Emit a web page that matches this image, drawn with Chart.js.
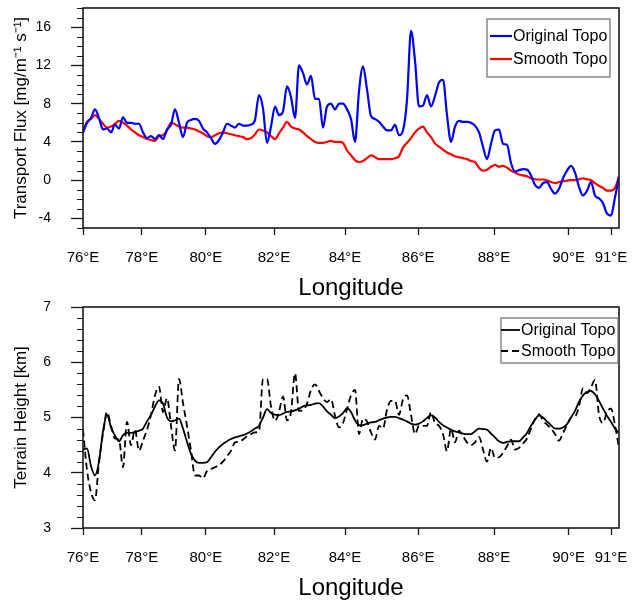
<!DOCTYPE html>
<html>
<head>
<meta charset="utf-8">
<script src="https://cdn.jsdelivr.net/npm/chart.js@4/dist/chart.umd.min.js"></script>
<style>
  html, body { margin: 0; padding: 0; background: #fff; }
  #wrap { position: relative; width: 634px; height: 603px; overflow: hidden; }
  #wrap canvas { position: absolute; left: 0; }
</style>
</head>
<body>
<div id="wrap">
  <canvas id="top" width="634" height="302" style="top:0"></canvas>
  <canvas id="bot" width="634" height="303" style="top:300px"></canvas>
</div>
<script>
// ---------- DATA (x = grid point index along the cross-section) ----------
const xTickIndex  = [0, 14.7, 30.7, 47.75, 65.5, 83.8, 102.75, 121.4, 132];
const xTickLabels = ['76°E','78°E','80°E','82°E','84°E','86°E','88°E','90°E','91°E'];

const fluxTicks    = [-4, 0, 4, 8, 12, 16];
const terrainTicks = [3, 4, 5, 6, 7];

const seriesNames = ['Original Topo', 'Smooth Topo'];

const fluxOriginal = [
 5.0,6.0,6.5,7.4,6.5,5.3,5.4,5.0,5.8,5.4,
 6.6,6.0,6.0,5.9,5.9,5.0,4.4,4.6,4.3,4.7,
 4.3,5.3,5.8,7.4,6.0,4.5,6.0,6.3,6.4,6.2,
 5.4,5.0,4.4,3.8,4.2,5.0,5.9,5.7,5.5,5.9,
 5.7,5.7,5.8,6.3,8.9,7.5,3.9,5.6,7.7,6.8,
 7.2,9.8,8.7,6.5,12.0,11.2,10.0,10.9,8.5,8.5,
 5.5,7.7,8.0,7.4,8.0,8.0,7.4,6.4,4.0,9.3,
 11.9,9.5,6.7,6.4,6.1,5.6,5.2,5.2,5.8,4.7,
 5.2,8.4,15.6,12.5,7.7,7.8,8.9,7.7,8.8,10.2,
 10.5,6.8,4.0,5.6,6.2,6.1,6.1,6.0,5.7,5.0,
 3.5,2.2,3.8,5.2,5.3,3.8,3.7,1.8,0.9,1.05,
 1.15,1.1,0.5,-0.5,-0.8,-0.3,-0.2,-0.9,-1.4,-0.9,
 0.2,1.0,1.5,0.8,-0.7,-1.6,-1.1,-0.2,-1.6,-1.9,
 -2.4,-3.5,-3.7,-1.8,0.3
];
const fluxSmooth = [
 5.0,6.1,6.4,6.8,6.4,5.9,5.5,5.6,5.9,6.2,
 6.0,5.7,5.3,5.0,4.7,4.5,4.3,4.2,4.1,4.6,
 4.7,5.2,6.0,5.85,5.6,5.5,5.5,5.4,5.3,5.1,
 4.9,4.6,4.5,4.7,4.9,5.0,4.9,4.8,4.7,4.6,
 4.5,4.3,4.4,4.8,5.3,5.2,5.0,4.6,4.3,4.9,
 5.5,6.1,5.6,5.4,5.3,5.0,4.6,4.3,4.0,3.9,
 3.9,4.0,4.1,4.0,4.0,3.9,3.1,2.6,2.1,1.9,
 2.0,2.3,2.6,2.4,2.2,2.2,2.2,2.2,2.3,2.5,
 3.4,3.9,4.4,5.0,5.4,5.6,5.0,4.5,3.85,3.5,
 3.2,2.9,2.7,2.5,2.4,2.3,2.2,2.0,1.9,1.3,
 1.0,1.1,1.4,1.6,1.4,1.5,1.3,1.0,0.8,0.6,
 0.5,0.4,0.2,0.1,0.07,0.07,0.0,-0.2,-0.3,-0.2,
 -0.1,-0.05,0.0,0.0,0.1,0.2,0.1,0.0,-0.3,-0.6,
 -0.8,-1.1,-1.1,-0.8,0.4
];
const terrainOriginal = [
 4.42,4.44,4.12,3.95,4.2,4.75,5.05,4.82,4.67,4.57,
 4.68,4.72,4.72,4.74,4.76,4.8,4.93,5.05,5.2,5.31,
 5.25,5.0,4.93,4.95,4.98,4.8,4.56,4.34,4.22,4.18,
 4.18,4.19,4.28,4.38,4.46,4.52,4.57,4.61,4.64,4.66,
 4.68,4.71,4.75,4.8,4.85,5.0,5.15,5.08,5.05,5.04,
 5.07,5.1,5.11,5.13,5.16,5.2,5.22,5.23,5.25,5.26,
 5.2,5.11,5.05,4.99,5.02,5.08,5.17,5.1,4.95,4.86,
 4.86,4.89,4.91,4.92,4.95,4.98,5.0,5.01,5.01,4.99,
 4.96,4.93,4.89,4.87,4.89,4.93,4.99,5.04,5.0,4.92,
 4.86,4.82,4.78,4.75,4.73,4.71,4.7,4.7,4.75,4.8,
 4.79,4.78,4.71,4.64,4.57,4.54,4.56,4.57,4.57,4.57,
 4.64,4.72,4.85,4.96,5.04,5.0,4.93,4.86,4.8,4.8,
 4.82,4.88,5.0,5.12,5.28,5.4,5.46,5.48,5.42,5.3,
 5.16,5.03,4.92,4.8,4.72
];
const terrainSmooth = [
 4.78,4.05,3.65,3.5,4.2,4.7,5.1,4.85,4.62,4.6,
 4.1,4.92,4.5,4.78,4.4,4.58,4.78,5.05,5.4,5.56,
 5.1,5.35,4.85,4.4,5.7,5.26,4.85,4.4,3.95,3.95,
 3.9,4.03,4.07,4.1,4.14,4.2,4.3,4.4,4.55,4.56,
 4.6,4.66,4.7,4.73,4.75,5.7,5.7,5.2,4.94,5.1,
 5.38,4.95,5.1,5.8,5.12,5.13,5.25,5.5,5.6,5.48,
 5.35,5.28,5.33,5.03,4.82,4.9,5.15,5.4,5.5,4.7,
 4.98,4.93,4.73,4.6,4.85,4.8,5.14,5.3,5.3,5.05,
 5.33,5.4,5.05,4.7,4.85,4.85,4.85,5.1,4.9,4.85,
 4.7,4.39,4.8,4.55,4.76,4.66,4.55,4.5,4.55,4.65,
 4.42,4.2,4.45,4.27,4.28,4.36,4.48,4.6,4.42,4.45,
 4.53,4.62,4.8,4.97,5.06,4.95,4.87,4.8,4.7,4.58,
 4.72,4.86,5.0,5.02,5.2,5.53,5.44,5.55,5.68,5.05,
 4.9,5.1,5.16,4.86,4.45
];

// ---------- RENDERING ----------
Chart.defaults.font.family = "'Liberation Sans', Arial, Helvetica, sans-serif";
Chart.defaults.color = '#000';

const toPts = arr => arr.map((v, i) => ({x: i, y: v}));
const AXIS = '#1a1a1a';

const framePlugin = {
  id: 'frame',
  afterDraw(chart, args, opts) {
    const {ctx, chartArea: a, scales} = chart;
    const ys = scales.y;
    ctx.save();
    // minor y ticks (outward)
    ctx.strokeStyle = AXIS;
    ctx.lineWidth = 1.2;
    const n = Math.round((ys.max - ys.min) / opts.minorStep);
    ctx.beginPath();
    for (let k = 0; k <= n; k++) {
      const v = ys.min + k * opts.minorStep;
      if (opts.majors.some(m => Math.abs(m - v) < 1e-6)) continue;
      const py = Math.round(ys.getPixelForValue(v)) + 0.5;
      ctx.moveTo(a.left - 6, py);
      ctx.lineTo(a.left, py);
    }
    ctx.stroke();
    // frame
    ctx.lineWidth = 1.6;
    ctx.strokeRect(a.left, a.top, a.right - a.left, a.bottom - a.top);
    // legend
    const L = opts.legend;
    const bx = a.right - L.fromRight, by = a.top + L.fromTop;
    ctx.fillStyle = '#fff';
    ctx.fillRect(bx, by, L.w, L.h);
    ctx.strokeStyle = '#777';
    ctx.lineWidth = 1.3;
    ctx.strokeRect(bx, by, L.w, L.h);
    ctx.font = "16px 'Liberation Sans', Arial, sans-serif";
    ctx.textBaseline = 'middle';
    ctx.textAlign = 'left';
    chart.data.datasets.forEach((ds, i) => {
      const ry = by + L.rows[i];
      ctx.strokeStyle = ds.borderColor;
      ctx.lineWidth = ds.borderWidth;
      ctx.setLineDash(ds.borderDash || []);
      ctx.beginPath();
      ctx.moveTo(bx + L.lineX0, ry);
      ctx.lineTo(bx + L.lineX1, ry);
      ctx.stroke();
      ctx.setLineDash([]);
      ctx.fillStyle = '#000';
      ctx.fillText(ds.label, bx + L.lineX1 + 1, ry + 1);
    });
    ctx.restore();
  }
};

function makeChart(canvasId, datasets, yMin, yMax, yTicks, yTitle, minorStep, legend, topPad, xHeight, titlePadBottom) {
  return new Chart(document.getElementById(canvasId), {
    type: 'line',
    data: { datasets },
    options: {
      responsive: false,
      animation: false,
      devicePixelRatio: 1,
      layout: { padding: { top: topPad, right: 15, left: 0, bottom: 0 } },
      elements: { point: { radius: 0 }, line: { cubicInterpolationMode: 'monotone' } },
      plugins: {
        legend: { display: false },
        tooltip: { enabled: false },
        frame: { minorStep, majors: yTicks, legend }
      },
      scales: {
        x: {
          type: 'linear',
          min: 0,
          max: fluxOriginal.length - 1,
          afterBuildTicks: s => { s.ticks = xTickIndex.map(v => ({ value: v })); },
          afterFit: s => { s.height = xHeight; s.paddingLeft = 0; s.paddingRight = 0; },
          ticks: {
            autoSkip: false, maxRotation: 0, padding: 14,
            font: { size: 15 }, color: '#000',
            callback: (v, i) => xTickLabels[i]
          },
          grid: { display: true, drawOnChartArea: false, drawTicks: true, tickLength: 7, tickColor: AXIS, tickWidth: 1.3 },
          border: { display: false },
          title: { display: true, text: 'Longitude', font: { size: 24 }, color: '#000', padding: { top: 0, bottom: titlePadBottom } }
        },
        y: {
          type: 'linear',
          min: yMin,
          max: yMax,
          afterBuildTicks: s => { s.ticks = yTicks.map(v => ({ value: v })); },
          afterFit: s => { s.width = 83; s.paddingTop = 0; s.paddingBottom = 0; },
          ticks: { padding: 20, font: { size: 14 }, color: '#000', callback: v => String(v) },
          grid: { display: true, drawOnChartArea: false, drawTicks: true, tickLength: 12, tickColor: AXIS, tickWidth: 1.3 },
          border: { display: false },
          title: { display: true, text: yTitle, font: { size: 17 }, color: '#000', padding: { top: 11, bottom: 0 } }
        }
      }
    },
    plugins: [framePlugin]
  });
}

makeChart('top', [
  { label: seriesNames[0], data: toPts(fluxOriginal), borderColor: '#0000ff', borderWidth: 2.2 },
  { label: seriesNames[1], data: toPts(fluxSmooth),   borderColor: '#ff0000', borderWidth: 2.2 }
], -5, 18, fluxTicks, 'Transport Flux [mg/m⁻¹ s⁻¹]', 1,
  { fromRight: 132, fromTop: 11, w: 123, h: 58, rows: [17, 40], lineX0: 3, lineX1: 25 },
  8, 74, -1);

makeChart('bot', [
  { label: seriesNames[0], data: toPts(terrainOriginal), borderColor: '#000', borderWidth: 1.8 },
  { label: seriesNames[1], data: toPts(terrainSmooth),   borderColor: '#000', borderWidth: 1.8, borderDash: [7, 4] }
], 3, 7, terrainTicks, 'Terrain Height [km]', 0.2,
  { fromRight: 118, fromTop: 11, w: 117, h: 45, rows: [12, 33], lineX0: 0, lineX1: 19 },
  7, 75, 0);
</script>
</body>
</html>
